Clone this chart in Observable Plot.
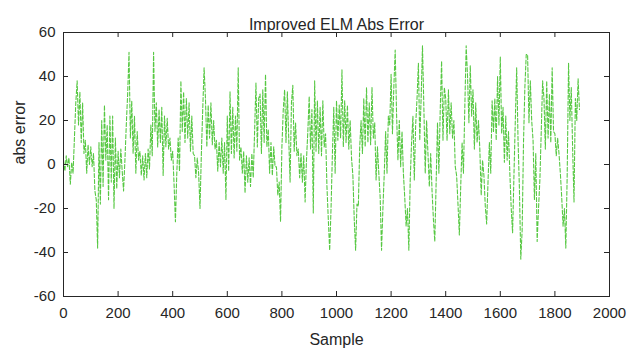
<!DOCTYPE html>
<html><head><meta charset="utf-8">
<script src="https://cdn.jsdelivr.net/npm/d3@7"></script>
<script src="https://cdn.jsdelivr.net/npm/@observablehq/plot@0.6"></script>
<style>
html,body{margin:0;padding:0;background:#fff;}
#chart{width:627px;height:349px;}
</style></head><body><div id="chart"></div>
<script>
const title = "Improved ELM Abs Error";
const xLabel = "Sample";
const yLabel = "abs error";
const xTicks = [0,200,400,600,800,1000,1200,1400,1600,1800,2000];
const yTicks = [-60,-40,-20,0,20,40,60];
const sampleStep = 5;
const absError = [
2,-3,4,-1, 3,-9,1,-4, 12,28,38,18, 33,10,28,5, 11,-4,9,0,
8,-1,5,-12, -16,-38,10,-18, 20,-10,27,2, 18,-16,22,-8, 22,-20,12,-11,
6,-6,7,-3, -12,2,18,32, 51,12,29,5, 22,-4,15,2, 6,-5,4,-7,
5,-6,7,-2, 18,4,51,15, 28,8,25,10, 26,-5,22,8, 21,7,12,2,
6,-9,-26,-4, 12,-3,38,15, 33,10,30,12, 28,6,22,5, 4,-6,3,-4,
-20,5,25,44, 30,8,27,12, 28,9,20,7, 11,-3,10,-1, 12,-4,10,-16,
22,-3,33,5, 26,3,22,6, 44,2,8,-4, 6,-13,4,-8, 3,-10,5,-6,
15,37,8,30, 32,5,34,10, 41,8,16,-4, 10,-5,8,-1, -1,-14,-8,-26,
8,25,34,10, 33,12,-8,28, 36,6,19,4, 7,-6,5,-8, 4,-17,2,15,
31,7,25,-22, 38,6,29,5, 26,4,29,8, 14,-10,-25,-39, -20,5,26,-4,
29,11,27,12, 43,8,29,10, 27,7,20,3, -5,-25,-39,-18, -19,8,20,5,
30,8,35,10, 28,9,35,12, 19,-7,8,-4, -15,-39,-20,-4, 15,-4,22,18,
41,14,35,52, 23,2,20,-1, 15,-4,-15,-28, -20,-39,-7,10, 22,-7,18,30,
46,11,30,54, 26,-4,20,5, -10,5,-12,-25, -35,-8,19,-4, 25,47,11,35,
30,11,34,14, 28,12,20,-1, -5,-18,-32,-10, 10,-4,26,54, 40,19,45,22,
34,7,28,10, 20,7,-14,2, -5,-19,-27,-8, 10,-4,29,15, 30,11,40,18,
49,14,26,1, 22,2,15,-4, -20,-31,-5,20, 44,11,-11,-43, -30,10,35,50,
50,19,38,20, 11,-16,5,-35, -20,-7,15,38, 30,7,38,12, 32,10,44,15,
14,4,12,5, -4,-15,-28,-20, -38,-5,46,20, 35,7,-17,30, 20,39,25
];

const W = 627, H = 349, mL = 63, mR = 18, mT = 32, mB = 53;
const innerW = W - mL - mR, innerH = H - mT - mB, tk = 5;
const ink = "#262626";
const data = absError.map((v, i) => ({sample: i * sampleStep, err: v}));

const chart = Plot.plot({
  width: W, height: H,
  marginLeft: mL, marginRight: mR, marginTop: mT, marginBottom: mB,
  style: {fontFamily: "'Liberation Sans', Arial, sans-serif", fontSize: "15px", color: ink, background: "#fff"},
  x: {domain: [0, 2000]},
  y: {domain: [-60, 60]},
  marks: [
    Plot.line(data, {x: "sample", y: "err", stroke: "#57c843", strokeWidth: 1.1, strokeDasharray: "4,2"}),
    Plot.frame({stroke: ink, strokeWidth: 1}),
    Plot.tickX(xTicks, {x: d => d, insetTop: innerH - tk, stroke: ink}),
    Plot.tickX(xTicks, {x: d => d, insetBottom: innerH - tk, stroke: ink}),
    Plot.tickY(yTicks, {y: d => d, insetRight: innerW - tk, stroke: ink}),
    Plot.tickY(yTicks, {y: d => d, insetLeft: innerW - tk, stroke: ink}),
    Plot.axisX({ticks: xTicks, tickSize: 0, tickPadding: 11, tickFormat: d => String(d), label: null, fontSize: 15}),
    Plot.axisY({ticks: yTicks, tickSize: 0, tickPadding: 8, tickFormat: d => String(d), label: null, fontSize: 15}),
    Plot.text([title], {frameAnchor: "top", dy: -14, fontSize: 16}),
    Plot.text([xLabel], {frameAnchor: "bottom", dy: 48, fontSize: 16}),
    Plot.text([yLabel], {frameAnchor: "left", dx: -44, rotate: -90, fontSize: 16})
  ]
});
document.getElementById("chart").appendChild(chart);
</script>
</body></html>
